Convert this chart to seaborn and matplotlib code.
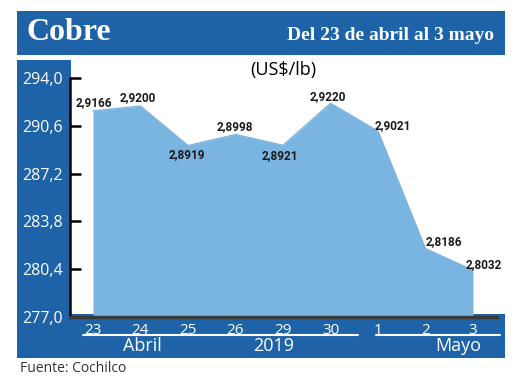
import numpy as np
import pandas as pd
import matplotlib
matplotlib.use("Agg")
import matplotlib.pyplot as plt
from matplotlib.patches import Rectangle
from matplotlib.lines import Line2D
import seaborn as sns

# ---- data ----
days = ["23", "24", "25", "26", "29", "30", "1", "2", "3"]
labels = ["2,9166", "2,9200", "2,8919", "2,8998", "2,8921", "2,9220", "2,9021", "2,8186", "2,8032"]
prices = [291.66, 292.00, 289.19, 289.98, 289.21, 292.20, 290.21, 281.86, 280.32]
yticks = [277.0, 280.4, 283.8, 287.2, 290.6, 294.0]
ytick_labels = ["277,0", "280,4", "283,8", "287,2", "290,6", "294,0"]

DARK = "#1e63a7"
FILL = "#7ab4e1"

sns.set_theme(style="white")
plt.rcParams["font.family"] = ["Open Sans", "DejaVu Sans"]

W, H = 520, 390
fig = plt.figure(figsize=(5.2, 3.9), dpi=100, facecolor="white")

def px_rect(x0, y0, x1, y1, color):
    fig.add_artist(Rectangle((x0 / W, 1 - y1 / H), (x1 - x0) / W, (y1 - y0) / H,
                             transform=fig.transFigure, facecolor=color,
                             edgecolor="none", zorder=-2))

def px_line(x0, x1, y, color="white", lw=1.5):
    fig.add_artist(Line2D([x0 / W, x1 / W], [1 - y / H, 1 - y / H],
                          transform=fig.transFigure, color=color, lw=lw, zorder=3))

# decorative frame
px_rect(17, 11, 505, 55, DARK)      # header
px_rect(17, 60, 71, 358, DARK)      # left panel
px_rect(17, 314, 505, 358, DARK)    # bottom band

fig.text(27 / W, 1 - 33 / H, "Cobre", color="white", fontsize=23, fontweight="bold",
         family=["Liberation Serif", "DejaVu Serif"], ha="left", va="center")
fig.text(494 / W, 1 - 35 / H, "Del 23 de abril al 3 mayo", color="white", fontsize=14,
         fontweight="bold", family=["Liberation Serif", "DejaVu Serif"], ha="right", va="center")
fig.text(283 / W, 1 - 70 / H, "(US$/lb)", color="black", fontsize=13, ha="center", va="center")
fig.text(20 / W, 1 - 368 / H, "Fuente: Cochilco", color="#333333", fontsize=10,
         ha="left", va="center")

# bottom group labels
px_line(83, 358, 335)
px_line(376, 500, 335)
fig.text(142 / W, 1 - 346 / H, "Abril", color="white", fontsize=13, ha="center", va="center")
fig.text(274 / W, 1 - 346 / H, "2019", color="white", fontsize=13, ha="center", va="center")
fig.text(458 / W, 1 - 346 / H, "Mayo", color="white", fontsize=13, ha="center", va="center")

# ---- chart ----
ax = fig.add_axes([70 / W, 1 - 317 / H, 427 / W, 239 / H])
ax.patch.set_alpha(0)
df = pd.DataFrame({"i": np.arange(len(days)), "v": prices})
ax.fill_between(df["i"], df["v"], yticks[0], color=FILL, lw=0, zorder=1)
sns.lineplot(data=df, x="i", y="v", color=FILL, lw=1, ax=ax, zorder=2)

ax.set_xlim(-0.484, 8.505)
ax.set_ylim(yticks[0], yticks[-1])
ax.set_yticks(yticks)
ax.set_yticklabels(ytick_labels)
ax.set_xticks(df["i"])
ax.set_xticklabels(days)
ax.set_xlabel("")
ax.set_ylabel("")
ax.tick_params(axis="y", direction="in", length=8, width=1.8, color="black",
               labelcolor="white", labelsize=11.5, pad=5, left=True)
ax.tick_params(axis="x", length=0, labelcolor="white", labelsize=11, pad=4)
for s in ["top", "right"]:
    ax.spines[s].set_visible(False)
ax.spines["left"].set_color("black")
ax.spines["left"].set_linewidth(1.8)
ax.spines["bottom"].set_color("#3a3a3a")
ax.spines["bottom"].set_linewidth(2.5)
ax.grid(False)

# value labels (offsets in pixels: dx, dy up)
offsets = [(1, 8), (-3, 9), (-1, -9), (-1, 8), (-3, -10), (-3, 7), (15, 6), (18, 7), (11, 6)]
for i, (v, t) in enumerate(zip(prices, labels)):
    dx, dy = offsets[i]
    ax.annotate(t, (i, v), xytext=(dx * 0.72, dy * 0.72), textcoords="offset points",
                ha="center", va="center", fontsize=8.5, fontweight="bold", color="#1a1a1a",
                family=["Roboto", "DejaVu Sans"], zorder=5)

fig.savefig("out.png", dpi=100, facecolor="white")
